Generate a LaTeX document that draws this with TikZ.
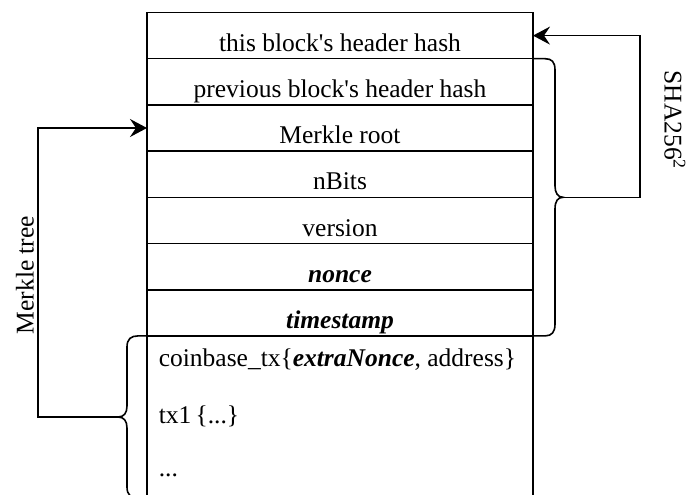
\documentclass[tikz,border=0pt]{standalone}
\usepackage{fontspec}
\setmainfont{Liberation Serif}
\usetikzlibrary{positioning,arrows.meta}

\begin{document}
\begin{tikzpicture}[x=1pt,y=1pt,yscale=-1,xscale=1,
  line width=1.6pt,
  font=\fontsize{25.5}{30}\selectfont,
  field/.style={draw, minimum width=386pt, inner sep=0pt, outer sep=0pt, text height=38.7pt, text depth=7.5pt},
  entry/.style={anchor=base west, inner sep=0pt},
  link/.style={-{Stealth[length=17pt,width=18pt,inset=6pt]}},
]
  \useasboundingbox (0,0) rectangle (689,495);
  % header fields
  \node[field, anchor=north] (hash) at (340,12.5) {this block\textquotesingle s header hash};
  \node[field, below=0pt of hash] (prev) {previous block\textquotesingle s header hash};
  \node[field, below=0pt of prev] (root) {Merkle root};
  \node[field, below=0pt of root] (nbits) {nBits};
  \node[field, below=0pt of nbits] (version) {version};
  \node[field, below=0pt of version] (nonce) {\textbf{\textit{nonce}}};
  \node[field, below=0pt of nonce] (time) {\textbf{\textit{timestamp}}};
  % transactions
  \draw (time.south west) -- (147,500);
  \draw (time.south east) -- (533,500);
  \node[entry] (coinbase) at (158,366.7) {coinbase\_tx\{\textbf{\textit{extraNonce}}, address\}};
  \node[entry] (tx1) at (158,423) {tx1\,\{...\}};
  \node[entry] (dots) at (158,476) {...};
  % braces
  \coordinate (rtip) at (563,197.3);
  \draw (533,58.7) -- (545,58.7) .. controls (552,58.7) and (555,62) .. (555,70) -- (555,186) .. controls (555,193) and (558,197.3) .. (rtip) .. controls (558,197.3) and (555,201) .. (555,209) -- (555,324) .. controls (555,332) and (552,335.9) .. (545,335.9) -- (533,335.9);
  \coordinate (ltip) at (118,417);
  \draw (147,335.9) -- (138,335.9) .. controls (131,335.9) and (127,339) .. (127,347) -- (127,406) .. controls (127,413) and (124,417) .. (ltip) .. controls (124,417) and (127,421) .. (127,428) -- (127,487) .. controls (127,495) and (131,498) .. (138,498) -- (147,498);
  % hashing
  \draw[link] (rtip) -- (640,197.3) |- (hash.east);
  \draw[link] (ltip) -- (38,417) |- (root.west);
  \node[rotate=-90] (sha) at (675,120) {SHA256\textsuperscript{2}};
  \node[rotate=90] (merkle) at (25,275) {Merkle tree};
\end{tikzpicture}
\end{document}
